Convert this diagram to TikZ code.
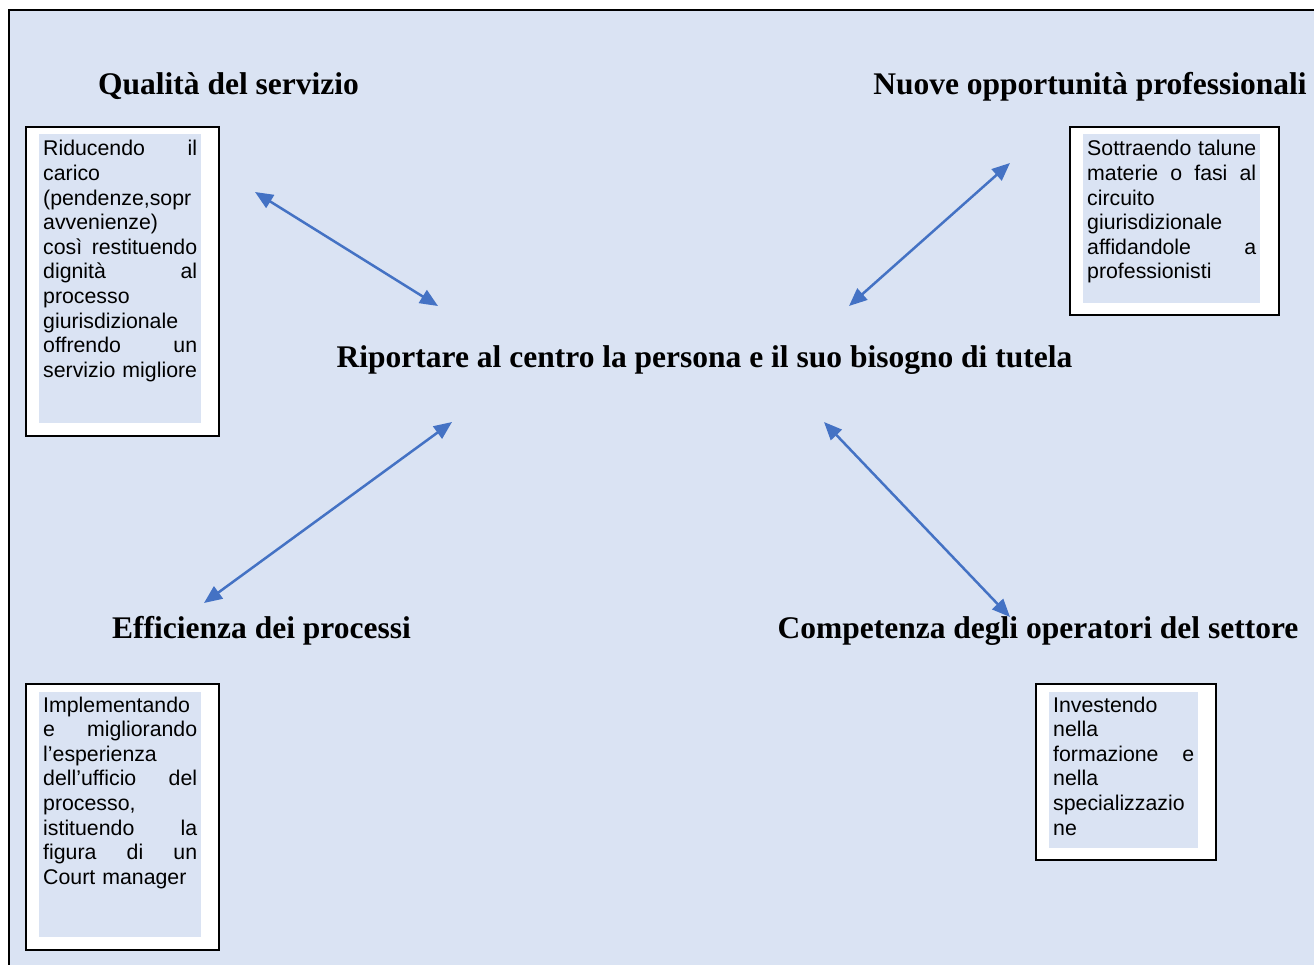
\documentclass[tikz,border=0pt]{standalone}
\usepackage{fontspec}
\setmainfont{Liberation Serif}
\newfontfamily\boxfont{Liberation Sans}
\usepackage{xcolor}
\usetikzlibrary{arrows.meta}
\definecolor{panelblue}{HTML}{DAE3F3}
\definecolor{arrowblue}{HTML}{4472C4}
\tikzset{
    outer-box/.style = {draw=black, fill=white, line width=1.2pt, rectangle, inner sep=0pt, outer sep=0pt, anchor=north west},
    inner-fill/.style = {fill=panelblue, rectangle, inner sep=0pt, outer sep=0pt, anchor=north west},
    box-text/.style = {anchor=base west, inner sep=0pt, align=left, font=\boxfont\fontsize{21.3}{24.6}\selectfont},
    title-text/.style = {anchor=base, inner sep=0pt, font=\bfseries\fontsize{31.5}{36}\selectfont},
    link/.style = {arrowblue, line width=2.5pt, {Triangle[length=18pt,width=15pt]}-{Triangle[length=18pt,width=15pt]}},
}

\begin{document}
\begin{tikzpicture}[x=1pt, y=-1pt]
\useasboundingbox (0,0) rectangle (1314,965);
\clip (0,0) rectangle (1314,965);
% panel
\fill[panelblue] (9,10) rectangle (1314,965);
\draw[line width=2pt] (1314,10) -- (9,10) -- (9,965);

% titles
\node[title-text] (qualita) at (228.5,95) {Qualità del servizio};
\node[title-text] (opportunita) at (1090,95) {Nuove opportunità professionali};
\node[title-text] (efficienza) at (261.5,638) {Efficienza dei processi};
\node[title-text] (competenza) at (1038,638) {Competenza degli operatori del settore};
\node[title-text] (centro) at (704.5,367) {Riportare al centro la persona e il suo bisogno di tutela};

% text boxes
\node[outer-box, minimum width=193pt, minimum height=309pt] (qualita-box) at (26,127) {};
\node[inner-fill, minimum width=162pt, minimum height=289pt] (qualita-fill) at (39,134) {};
\node[box-text, text width=154pt] (qualita-text) at (43,156) {%
Riducendo\hfill il\\
carico\\
(pendenze,sopr\\
avvenienze)\\
così\hfill restituendo\\
dignità\hfill al\\
processo\\
giurisdizionale\\
offrendo\hfill un\\
servizio migliore};

\node[outer-box, minimum width=209pt, minimum height=188pt] (opportunita-box) at (1070,127) {};
\node[inner-fill, minimum width=177pt, minimum height=169pt] (opportunita-fill) at (1083,134) {};
\node[box-text, text width=169pt] (opportunita-text) at (1087,156) {%
Sottraendo\hfill talune\\
materie\hfill o\hfill fasi\hfill al\\
circuito\\
giurisdizionale\\
affidandole\hfill a\\
professionisti};

\node[outer-box, minimum width=193pt, minimum height=266pt] (efficienza-box) at (26,684) {};
\node[inner-fill, minimum width=162pt, minimum height=245pt] (efficienza-fill) at (39,692) {};
\node[box-text, text width=154pt] (efficienza-text) at (43,712) {%
Implementando\\
e\hfill migliorando\\
l’esperienza\\
dell’ufficio\hfill del\\
processo,\\
istituendo\hfill la\\
figura\hfill di\hfill un\\
Court manager};

\node[outer-box, minimum width=180pt, minimum height=176pt] (competenza-box) at (1036,684) {};
\node[inner-fill, minimum width=149pt, minimum height=156pt] (competenza-fill) at (1049,692) {};
\node[box-text, text width=141pt] (competenza-text) at (1053,712) {%
Investendo\\
nella\\
formazione\hfill e\\
nella\\
specializzazio\\
ne};

% arrows
\coordinate (qualita-tip) at (255,192);
\coordinate (qualita-end) at (438,306);
\coordinate (opportunita-tip) at (1010,163);
\coordinate (opportunita-end) at (849,306);
\coordinate (efficienza-tip) at (204,603);
\coordinate (efficienza-end) at (452,422);
\coordinate (competenza-tip) at (1010,617);
\coordinate (competenza-end) at (824,422);
\draw[link] (qualita-tip) -- (qualita-end);
\draw[link] (opportunita-tip) -- (opportunita-end);
\draw[link] (efficienza-tip) -- (efficienza-end);
\draw[link] (competenza-tip) -- (competenza-end);
\end{tikzpicture}
\end{document}
